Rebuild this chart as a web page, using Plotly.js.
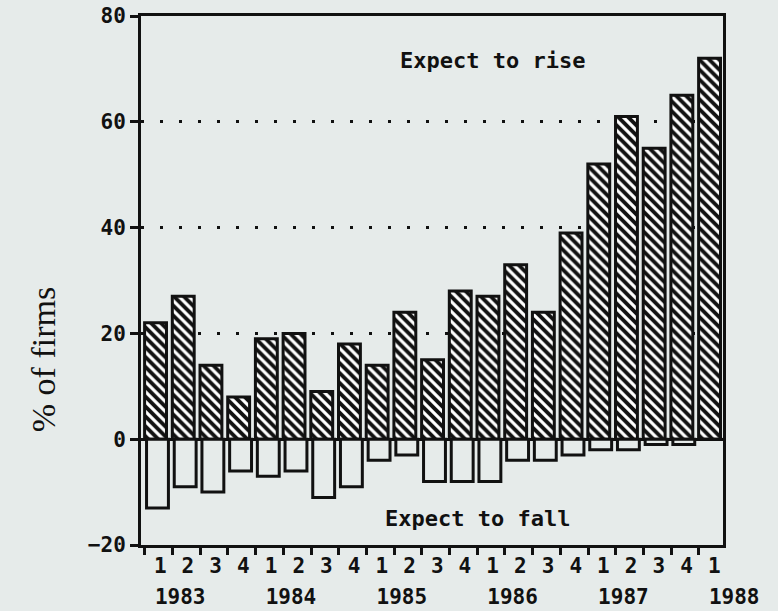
<!DOCTYPE html>
<html>
<head>
<meta charset="utf-8">
<script src="https://cdn.plot.ly/plotly-3.0.1.min.js"></script>
<style>html,body{margin:0;padding:0;background:#e6ebea;}#chart{width:778px;height:611px;}</style>
</head>
<body>
<div id="chart"></div>
<script>
// Data
const quarters = ["1","2","3","4","1","2","3","4","1","2","3","4","1","2","3","4","1","2","3","4","1"];
const years = ["1983","1984","1985","1986","1987","1988"];
const expectRise = [22,27,14,8,19,20,9,18,14,24,15,28,27,33,24,39,52,61,55,65,72];
const expectFall = [-13,-9,-10,-6,-7,-6,-11,-9,-4,-3,-8,-8,-8,-4,-4,-3,-2,-2,-1,-1,0];
const yTicks = [-20,0,20,40,60,80];

const idx = quarters.map((_, i) => i);
const edges = idx.map(i => i - 0.4);
const yearEdges = idx.filter(i => quarters[i] === "1").map(i => i - 0.4);

const ink = "#111111";
const bg = "#e6ebea";
const mono = "DejaVu Sans Mono";

const traces = [
  {
    type: "bar", x: idx, y: expectRise, width: 0.79, offset: -0.41,
    marker: {color: "#ffffff", line: {color: ink, width: 3},
             pattern: {shape: "\\", fgcolor: ink, bgcolor: "#ffffff", size: 7, solidity: 0.55, fillmode: "replace"}},
    hoverinfo: "skip", showlegend: false
  },
  {
    type: "bar", x: idx, y: expectFall, width: 0.79, offset: -0.34,
    marker: {color: bg, line: {color: ink, width: 3}},
    hoverinfo: "skip", showlegend: false
  },
  {
    // carrier for the year-label axis (draws nothing)
    type: "scatter", mode: "none", x: idx, y: expectFall, xaxis: "x2", yaxis: "y",
    hoverinfo: "skip", showlegend: false
  }
];

const layout = {
  width: 778, height: 611,
  paper_bgcolor: bg, plot_bgcolor: bg,
  margin: {l: 141, r: 55, t: 16, b: 66},
  barmode: "overlay",
  showlegend: false,
  xaxis: {
    range: [-0.54, 20.47], showline: true, mirror: true, linecolor: ink, linewidth: 3,
    showgrid: false, zeroline: false,
    tickmode: "array", tickvals: edges, ticktext: quarters,
    ticks: "outside", ticklen: 7, tickwidth: 3, tickcolor: ink,
    ticklabelposition: "outside right", ticklabelshift: 6,
    tickfont: {family: mono, size: 21, color: ink, weight: "bold"}
  },
  xaxis2: {
    overlaying: "x", anchor: "y", side: "bottom",
    range: [-0.54, 20.47], showline: false, showgrid: false, zeroline: false,
    tickmode: "array", tickvals: yearEdges, ticktext: years,
    ticks: "", ticklabelposition: "outside right", ticklabelshift: 10, ticklabelstandoff: 37,
    tickfont: {family: mono, size: 21, color: ink, weight: "bold"}
  },
  yaxis: {
    range: [-20, 80], showline: true, mirror: true, linecolor: ink, linewidth: 3,
    tickmode: "array", tickvals: yTicks,
    ticks: "outside", ticklen: 8, tickwidth: 3, tickcolor: ink,
    tickfont: {family: mono, size: 21, color: ink, weight: "bold"},
    showgrid: true, gridcolor: ink, gridwidth: 3, griddash: "3px,16px",
    zeroline: true, zerolinecolor: ink, zerolinewidth: 3
  },
  annotations: [
    {text: "Expect to rise", xref: "paper", yref: "y", x: 0.604, y: 71.5, showarrow: false,
     font: {family: mono, size: 22, color: ink, weight: "bold"}},
    {text: "Expect to fall", xref: "paper", yref: "y", x: 0.579, y: -15, showarrow: false,
     font: {family: mono, size: 22, color: ink, weight: "bold"}},
    {text: "% of firms", xref: "paper", yref: "paper", x: -0.167, y: 0.21, xanchor: "center", yanchor: "bottom",
     textangle: -90, showarrow: false,
     font: {family: "Liberation Serif", size: 34, color: ink}}
  ]
};

Plotly.newPlot("chart", traces, layout, {staticPlot: true});
</script>
</body>
</html>
